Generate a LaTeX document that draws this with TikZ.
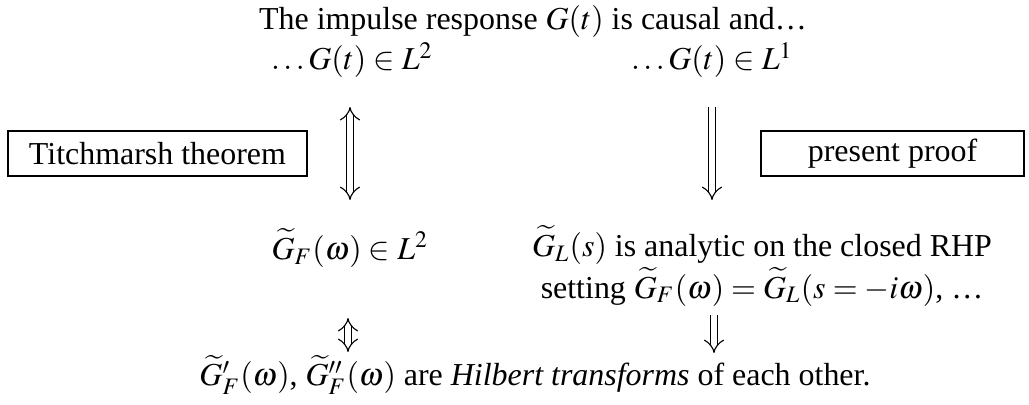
\documentclass[tikz,border=0pt]{standalone}
\usepackage{mathptmx}
\usepackage{fontspec}
\setmainfont{Liberation Serif}
\usetikzlibrary{arrows.meta}
\begin{document}
\begin{tikzpicture}[x=0.36pt,y=-0.36pt,
  txt/.style={inner sep=0pt,font=\fontsize{11.5}{13.8}\selectfont},
  boxed/.style={txt,draw,line width=0.4pt,minimum height=45*0.36pt,anchor=center},
  impl/.style={double,double distance=2.2pt,line width=0.4pt},
  both/.style={impl,{Implies[]}-{Implies[]}},
  down/.style={impl,-{Implies[]}}]
\useasboundingbox (0,0) rectangle (1029,404);
\node[txt] (title) at (533,22) {The impulse response $G(t)$ is causal and\ldots};
\node[txt] (a2) at (352,60) {$\ldots G(t)\in L^2$};
\node[txt] (a1) at (712,60) {$\ldots G(t)\in L^1$};
\node[boxed,minimum width=299*0.36pt] (tb) at (157.5,153.5) {Titchmarsh theorem};
\node[boxed,minimum width=263*0.36pt] (pp) at (892.5,153.5) {present proof};
\node[txt] (f2) at (350,248) {$\widetilde{G}_F(\omega)\in L^2$};
\node[txt,align=center] (gl) at (762,266) {$\widetilde{G}_L(s)$ is analytic on the closed RHP\\setting $\widetilde{G}_F(\omega)=\widetilde{G}_L(s=-i\omega)$, \ldots};
\node[txt] (bot) at (535,375) {$\widetilde{G}'_F(\omega)$, $\widetilde{G}''_F(\omega)$ are \emph{Hilbert transforms} of each other.};
\coordinate (l1) at (350,107);
\coordinate (l2) at (350,200);
\coordinate (r1) at (712,107);
\coordinate (r2) at (712,200);
\coordinate (s1) at (348,318);
\coordinate (s2) at (348,352);
\coordinate (t1) at (714,315);
\coordinate (t2) at (714,353);
\draw[both] (l1) -- (l2);
\draw[down] (r1) -- (r2);
\draw[both] (s1) -- (s2);
\draw[down] (t1) -- (t2);
\end{tikzpicture}
\end{document}
